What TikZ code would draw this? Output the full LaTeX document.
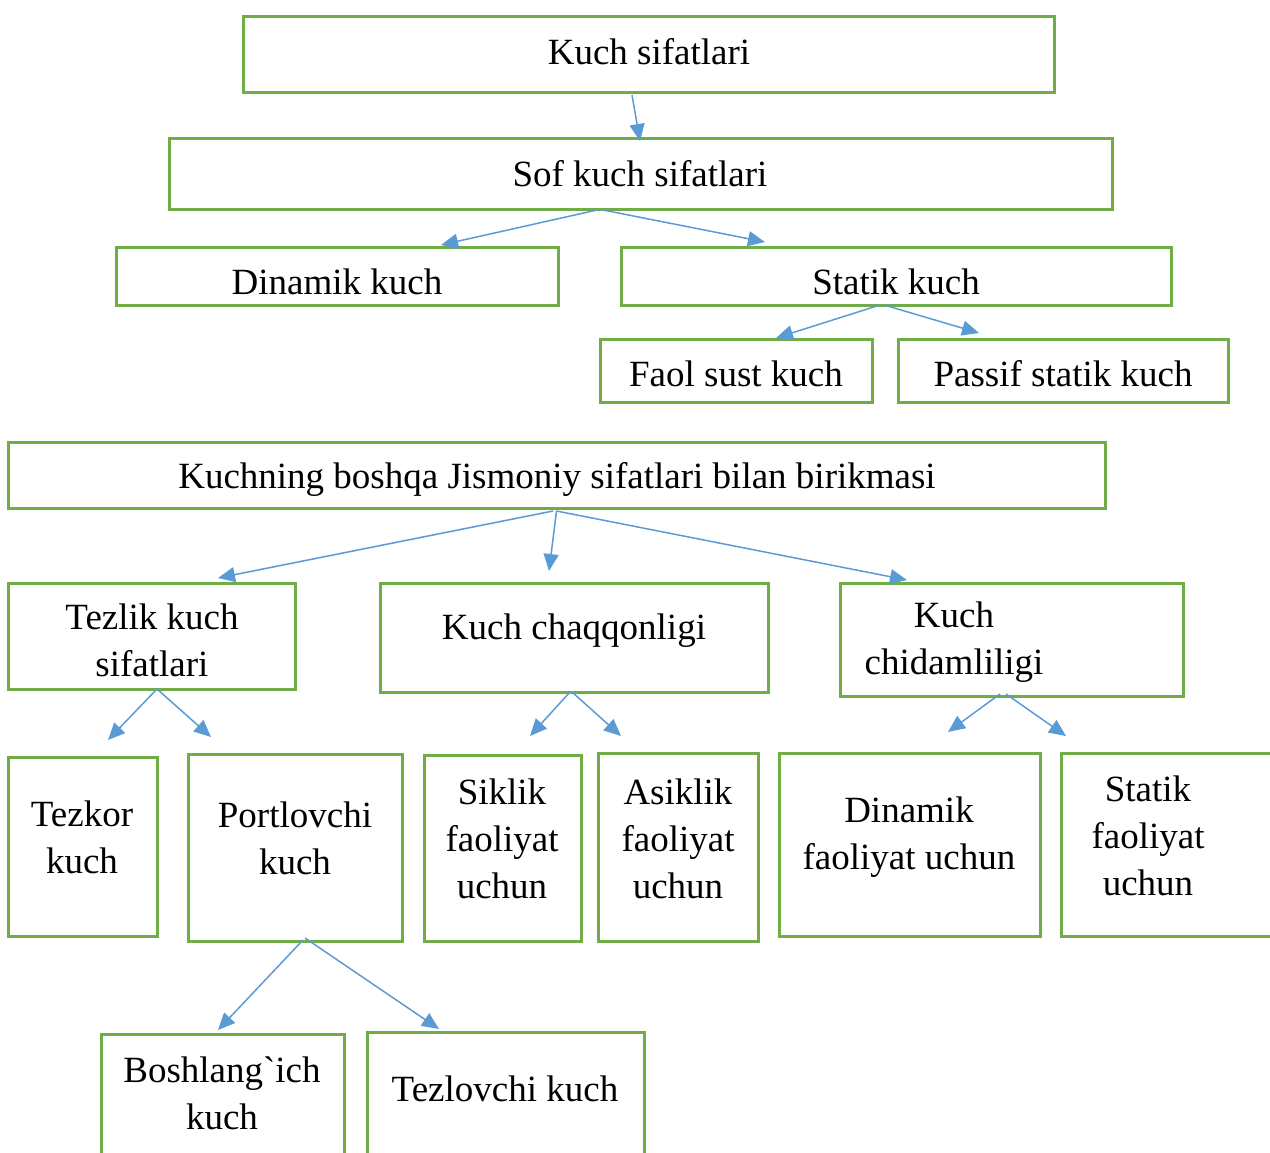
\documentclass[tikz,border=0pt]{standalone}
\usepackage{fontspec}
\setmainfont{Liberation Serif}
\usetikzlibrary{arrows.meta}
\definecolor{boxgreen}{HTML}{70AD47}
\definecolor{arrblue}{HTML}{5B9BD5}
\tikzset{
  bx/.style={draw=boxgreen, line width=3pt, rectangle, inner sep=0pt, outer sep=0pt},
  txt/.style={align=center, inner sep=0pt, font=\fontsize{37}{47}\selectfont},
  arr/.style={draw=arrblue, line width=1.5pt, -{Triangle[length=17pt,width=15pt]}}
}
\newcommand{\bxnode}[5]{\node[bx, minimum width=#4pt, minimum height=#5pt] (#1) at (#2,#3) {};}
\newcommand{\gravechar}{\XeTeXglyph\XeTeXcharglyph"60\relax}
\begin{document}
\begin{tikzpicture}[x=1pt,y=-1pt]
\useasboundingbox (0,0) rectangle (1270,1153);
\clip (0,0) rectangle (1270,1153);
% boxes
\bxnode{top}{648.5}{55}{811}{76}
\bxnode{sof}{640.5}{174.5}{943}{71}
\bxnode{din}{337}{276}{442}{58}
\bxnode{stat}{896}{276}{550}{58}
\bxnode{faol}{736}{370.5}{272}{63}
\bxnode{pas}{1063}{370.5}{330}{63}
\bxnode{kb}{556.5}{475}{1097}{66}
\bxnode{tez}{151.5}{636}{287}{106}
\bxnode{chaq}{574}{637.5}{388}{109}
\bxnode{chid}{1011.5}{639.5}{343}{113}
\bxnode{tezkor}{82.5}{846.5}{149}{179}
\bxnode{port}{295}{847.5}{214}{187}
\bxnode{sik}{502.5}{848}{157}{186}
\bxnode{asik}{678}{847}{160}{188}
\bxnode{dinf}{909.5}{844.5}{261}{183}
\bxnode{statf}{1168}{844.5}{214}{183}
\bxnode{bosh}{222.5}{1100}{243}{132}
\bxnode{tezl}{505.5}{1100}{277}{136}
% texts
\node[txt] (ttop) at (649,52) {Kuch sifatlari};
\node[txt] (tsof) at (640,174) {Sof kuch sifatlari};
\node[txt] (tdin) at (337,282) {Dinamik kuch};
\node[txt] (tstat) at (896,282) {Statik kuch};
\node[txt] (tfaol) at (736,374) {Faol sust kuch};
\node[txt] (tpas) at (1063,374) {Passif statik kuch};
\node[txt] (tkb) at (557,479) {Kuchning boshqa Jismoniy sifatlari bilan birikmasi};
\node[txt] (ttez) at (152,640) {Tezlik kuch\\sifatlari};
\node[txt] (tchaq) at (574,631) {Kuch chaqqonligi};
\node[txt] (tchid) at (954,642) {Kuch\\chidamliligi};
\node[txt] (ttezkor) at (82,837) {Tezkor\\kuch};
\node[txt] (tport) at (295,838) {Portlovchi\\kuch};
\node[txt] (tsik) at (502,839) {Siklik\\faoliyat\\uchun};
\node[txt] (tasik) at (678,839) {Asiklik\\faoliyat\\uchun};
\node[txt] (tdinf) at (909,837) {Dinamik\\faoliyat uchun};
\node[txt] (tstatf) at (1148,836) {Statik\\faoliyat\\uchun};
\node[txt] (tbosh) at (222,1093) {Boshlang\gravechar ich\\kuch};
\node[txt] (ttezl) at (505,1089) {Tezlovchi kuch};
% arrow end points
\coordinate (e1) at (640,141);
\coordinate (e2) at (441,245);
\coordinate (e3) at (765,242);
\coordinate (e4) at (776,338);
\coordinate (e5) at (979,333);
\coordinate (e6) at (218,578);
\coordinate (e7) at (549,571);
\coordinate (e8) at (907,580);
\coordinate (e9) at (108,740);
\coordinate (e10) at (211,737);
\coordinate (e11) at (530,736);
\coordinate (e12) at (621,736);
\coordinate (e13) at (948,732);
\coordinate (e14) at (1066,736);
\coordinate (e15) at (218,1030);
\coordinate (e16) at (439,1029);
% arrows
\draw[arr] ([xshift=-16.5pt,yshift=-2pt]top.south) -- (e1);
\draw[arr] ([xshift=-43.5pt]sof.south) -- (e2);
\draw[arr] ([xshift=-37.5pt]sof.south) -- (e3);
\draw[arr] ([xshift=-16pt]stat.south) -- (e4);
\draw[arr] ([xshift=-12pt]stat.south) -- (e5);
\draw[arr] ([xshift=-3.5pt,yshift=-3pt]kb.south) -- (e6);
\draw[arr] ([yshift=-3pt]kb.south) -- (e7);
\draw[arr] ([yshift=-3pt]kb.south) -- (e8);
\draw[arr] ([xshift=5.5pt]tez.south) -- (e9);
\draw[arr] ([xshift=5.5pt]tez.south) -- (e10);
\draw[arr] ([xshift=-4pt]chaq.south) -- (e11);
\draw[arr] ([xshift=-2pt]chaq.south) -- (e12);
\draw[arr] ([xshift=-11.5pt,yshift=2pt]chid.south) -- (e13);
\draw[arr] ([xshift=-5.5pt,yshift=2pt]chid.south) -- (e14);
\draw[arr] ([xshift=8pt,yshift=1pt]port.south) -- (e15);
\draw[arr] ([xshift=10pt,yshift=3pt]port.south) -- (e16);
\end{tikzpicture}
\end{document}
